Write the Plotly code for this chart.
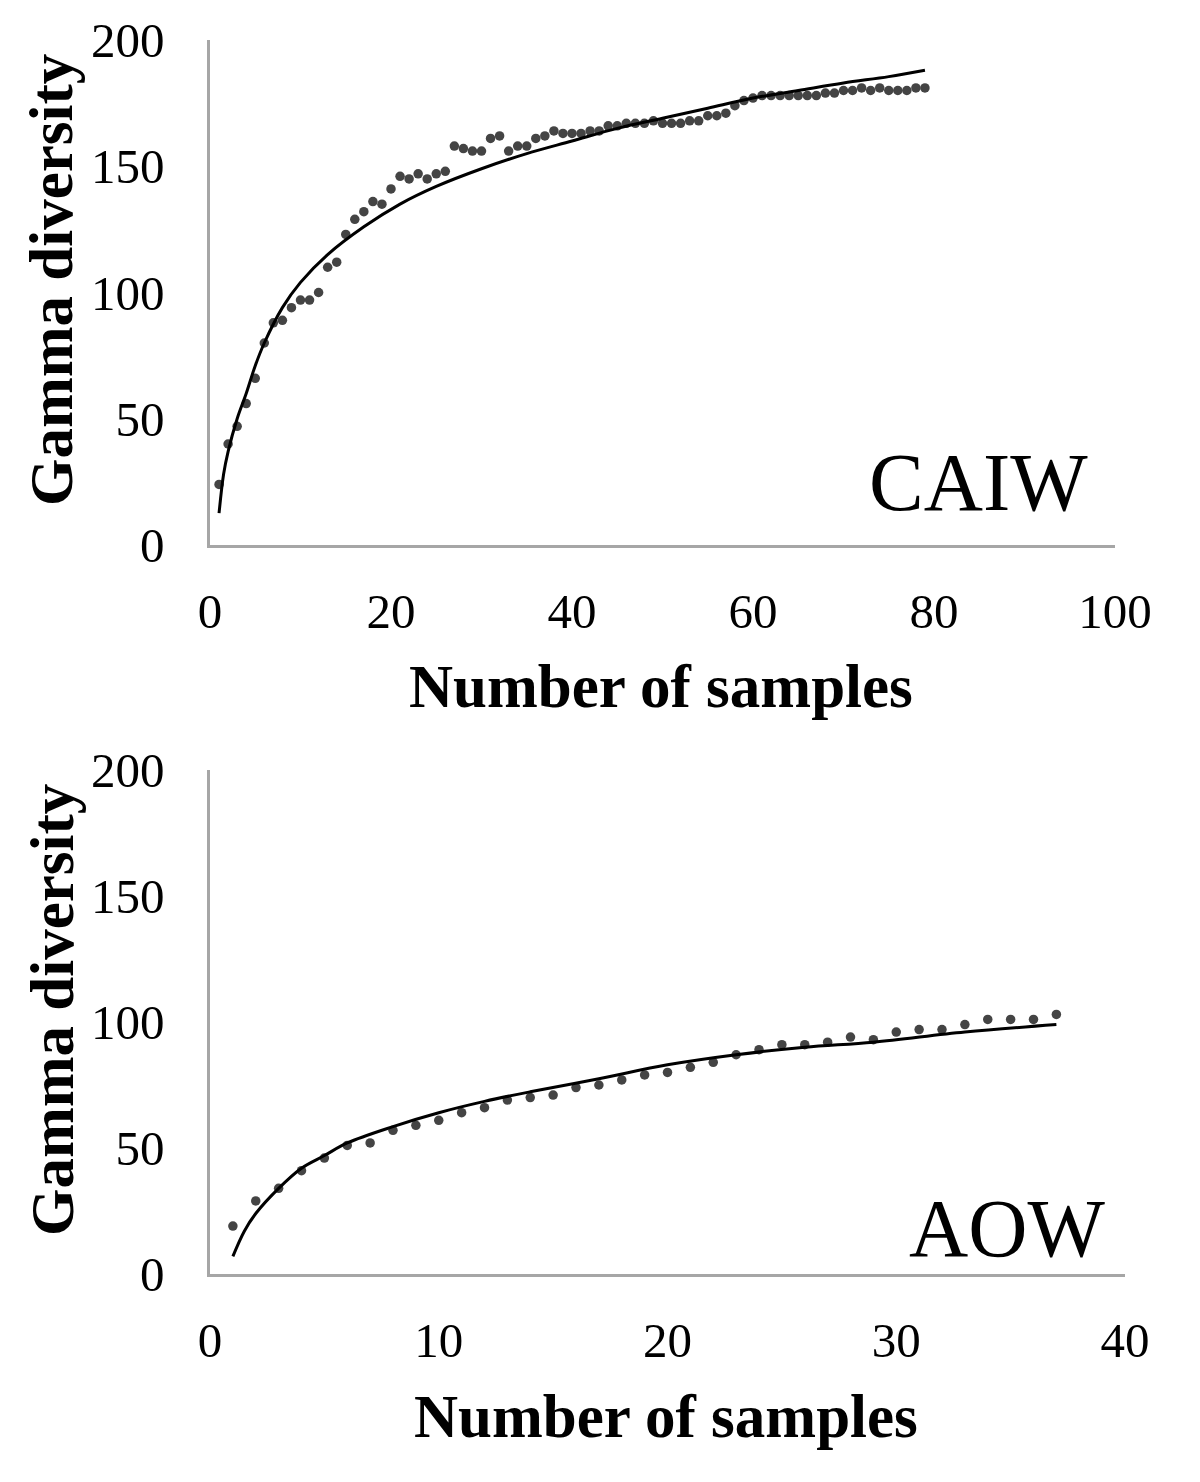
import plotly.graph_objects as go

# CAIW: gamma diversity per number of samples
caiw_n = list(range(1, 80))
caiw_gamma = [24, 40, 47, 56, 66, 80, 88, 89, 94, 97,
              97, 100, 110, 112, 123, 129, 132, 136, 135, 141,
              146, 145, 147, 145, 147, 148, 158, 157, 156, 156,
              161, 162, 156, 158, 158, 161, 162, 164, 163, 163,
              163, 164, 164, 166, 166, 167, 167, 167, 168, 167,
              167, 167, 168, 168, 170, 170, 171, 174, 176, 177,
              178, 178, 178, 178, 178, 178, 178, 179, 179, 180,
              180, 181, 180, 181, 180, 180, 180, 181, 181]

# CAIW fitted (log) trend line, read at selected x positions
caiw_fit_n = [1, 1.5, 2, 3, 4, 5, 6, 8, 10, 13, 17, 21, 25, 30, 35,
              40, 45, 50, 55, 60, 65, 70, 75, 79]
caiw_fit = [12.6, 28, 37, 50, 60, 71, 80, 94, 104, 115, 126, 135, 142, 149, 155,
            160, 165, 169, 173, 177, 180, 183, 185.5, 188]

# AOW
aow_n = list(range(1, 38))
aow_gamma = [19, 29, 34, 41, 46, 51, 52, 57, 59, 61,
             64, 66, 69, 70, 71, 74, 75, 77, 79, 80,
             82, 84, 87, 89, 91, 91, 92, 94, 93, 96,
             97, 97, 99, 101, 101, 101, 103]

aow_fit_n = [1, 1.5, 2, 3, 4, 5, 6, 8, 10, 12, 14, 17, 20, 23, 26, 29, 33, 37]
aow_fit = [7, 17, 24, 34, 42, 47, 52, 58.5, 64, 68.5, 72.3, 77.5, 83, 87, 90, 92, 96, 99]

W, H = 1200, 1482
OFF = 8  # default page margin of the browser
FONT = "Liberation Serif, Times New Roman, serif"
DOT = "#444444"
AXIS = "#a6a6a6"


def px(x):
    return (x - OFF) / W


def py(y):
    return 1 - (y - OFF) / H


fig = go.Figure()

fig.add_trace(go.Scatter(x=caiw_n, y=caiw_gamma, mode="markers",
                         marker=dict(size=9.5, color=DOT), xaxis="x", yaxis="y"))
fig.add_trace(go.Scatter(x=caiw_fit_n, y=caiw_fit, mode="lines",
                         line=dict(color="black", width=3, shape="spline"),
                         xaxis="x", yaxis="y"))
fig.add_trace(go.Scatter(x=aow_n, y=aow_gamma, mode="markers",
                         marker=dict(size=9.5, color=DOT), xaxis="x2", yaxis="y2"))
fig.add_trace(go.Scatter(x=aow_fit_n, y=aow_fit, mode="lines",
                         line=dict(color="black", width=3, shape="spline"),
                         xaxis="x2", yaxis="y2"))

base = dict(showline=True, linecolor=AXIS, linewidth=2.5, showgrid=False,
            zeroline=False, ticks="", tickfont=dict(family=FONT, size=49, color="black"))
xstyle = dict(base, ticklabelstandoff=21)
ystyle = dict(base, ticklabelstandoff=33)

fig.update_layout(
    width=W, height=H,
    margin=dict(l=0, r=0, t=0, b=0, autoexpand=False),
    paper_bgcolor="white", plot_bgcolor="white",
    showlegend=False,
    xaxis=dict(domain=[px(210), px(1115)], range=[0, 100], tickvals=[0, 20, 40, 60, 80, 100],
               anchor="y", **xstyle),
    yaxis=dict(domain=[py(545), py(40)], range=[0, 200], tickvals=[0, 50, 100, 150, 200],
               anchor="x", **ystyle),
    xaxis2=dict(domain=[px(210), px(1125)], range=[0, 40], tickvals=[0, 10, 20, 30, 40],
                anchor="y2", **xstyle),
    yaxis2=dict(domain=[py(1274), py(770)], range=[0, 200], tickvals=[0, 50, 100, 150, 200],
                anchor="x2", **ystyle),
)

title_font = dict(family=FONT, size=61, color="black")
label_font = dict(family=FONT, size=82, color="black")


def note(text, x, y, font, angle=0):
    fig.add_annotation(text=text, x=px(x), y=py(y), xref="paper", yref="paper",
                       xanchor="center", yanchor="middle", showarrow=False,
                       font=font, textangle=angle)


note("<b>Number of samples</b>", 661, 686, title_font)
note("<b>Number of samples</b>", 666, 1416, title_font)
note("<b>Gamma diversity</b>", 52, 280, title_font, -90)
note("<b>Gamma diversity</b>", 52, 1010, title_font, -90)
note("CAIW", 978, 482, label_font)
note("AOW", 1007, 1228, label_font)

fig.write_html("out.html")
